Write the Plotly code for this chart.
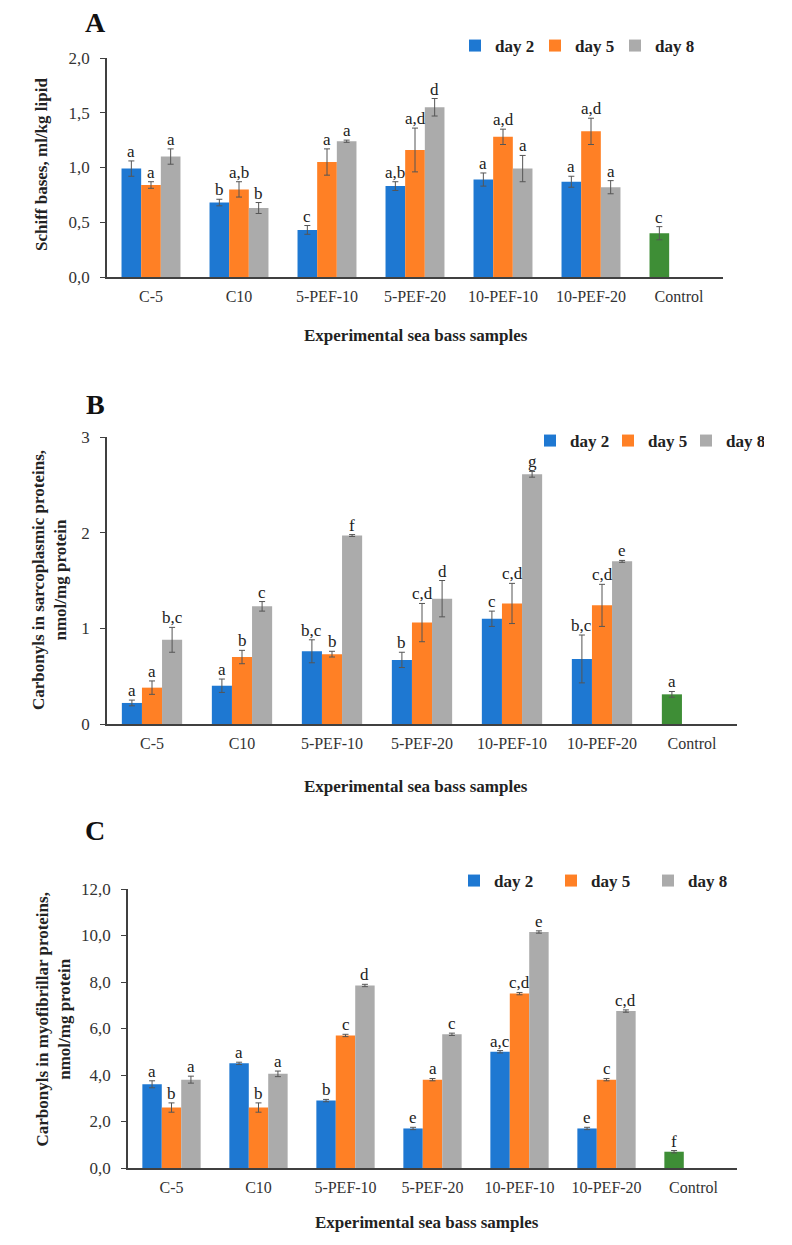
import plotly.graph_objects as go

categories = ["C-5", "C10", "5-PEF-10", "5-PEF-20", "10-PEF-10", "10-PEF-20", "Control"]
series_names = ["day 2", "day 5", "day 8"]

# Panel A: Schiff bases
a_day2 = [0.99, 0.68, 0.43, 0.83, 0.89, 0.87, 0.40]
a_day5 = [0.84, 0.80, 1.05, 1.16, 1.28, 1.33, None]
a_day8 = [1.10, 0.63, 1.24, 1.55, 0.99, 0.82, None]
a_err2 = [0.07, 0.03, 0.04, 0.04, 0.06, 0.05, 0.06]
a_err5 = [0.03, 0.07, 0.12, 0.20, 0.07, 0.12, None]
a_err8 = [0.07, 0.05, 0.01, 0.08, 0.12, 0.06, None]
a_let2 = ["a", "b", "c", "a,b", "a", "a", "c"]
a_let5 = ["a", "a,b", "a", "a,d", "a,d", "a,d", ""]
a_let8 = ["a", "b", "a", "d", "a", "a", ""]

# Panel B: Carbonyls in sarcoplasmic proteins
b_day2 = [0.22, 0.40, 0.76, 0.67, 1.10, 0.68, 0.31]
b_day5 = [0.38, 0.70, 0.73, 1.06, 1.26, 1.24, None]
b_day8 = [0.88, 1.23, 1.97, 1.31, 2.61, 1.70, None]
b_err2 = [0.03, 0.07, 0.12, 0.08, 0.08, 0.25, 0.03]
b_err5 = [0.07, 0.07, 0.03, 0.20, 0.21, 0.22, None]
b_err8 = [0.13, 0.05, 0.01, 0.19, 0.03, 0.01, None]
b_let2 = ["a", "a", "b,c", "b", "c", "b,c", "a"]
b_let5 = ["a", "b", "b", "c,d", "c,d", "c,d", ""]
b_let8 = ["b,c", "c", "f", "d", "g", "e", ""]

# Panel C: Carbonyls in myofibrillar proteins
c_day2 = [3.6, 4.5, 2.9, 1.7, 5.0, 1.7, 0.7]
c_day5 = [2.6, 2.6, 5.7, 3.8, 7.5, 3.8, None]
c_day8 = [3.8, 4.05, 7.85, 5.75, 10.15, 6.75, None]
c_err2 = [0.15, 0.05, 0.05, 0.05, 0.05, 0.05, 0.05]
c_err5 = [0.2, 0.2, 0.05, 0.05, 0.05, 0.05, None]
c_err8 = [0.15, 0.12, 0.05, 0.05, 0.05, 0.05, None]
c_let2 = ["a", "a", "b", "e", "a,c", "e", "f"]
c_let5 = ["b", "b", "c", "a", "c,d", "c", ""]
c_let8 = ["a", "a", "d", "c", "e", "c,d", ""]

y_titles = ["Schiff bases, ml/kg lipid",
            "Carbonyls in sarcoplasmic proteins,<br>nmol/mg protein",
            "Carbonyls in myofibrillar proteins,<br>nmol/mg protein"]
x_title = "Experimental sea bass samples"
panel_labels = ["A", "B", "C"]

COLORS = ["#1E78D2", "#FF8025", "#ABABAB"]
CONTROL_COLOR = "#3E8E36"
FONT = "Liberation Serif, DejaVu Serif, Times New Roman, serif"
BARGAP = 0.33
OFF = 8                      # page body margin
W, H = 792 - 2 * OFF, 1245 - 2 * OFF


def fx(px):
    return (px - OFF) / W


def fy(py):
    return 1 - (py - OFF) / H


panels = [
    dict(vals=[a_day2, a_day5, a_day8], errs=[a_err2, a_err5, a_err8], lets=[a_let2, a_let5, a_let8],
         x0=107, x1=723, ytop=58, ybot=277, yr=[0, 2], dtick=0.5, fmt=".1f",
         leg_x=455, leg_y=28, entry=35, xt_y=335, yt_x=[42], yt_c=165, lab_y=23),
    dict(vals=[b_day2, b_day5, b_day8], errs=[b_err2, b_err5, b_err8], lets=[b_let2, b_let5, b_let8],
         x0=107, x1=737, ytop=437, ybot=724, yr=[0, 3], dtick=1, fmt="d",
         leg_x=530, leg_y=423, entry=33, xt_y=786, yt_x=[40, 58], yt_c=580, lab_y=405),
    dict(vals=[c_day2, c_day5, c_day8], errs=[c_err2, c_err5, c_err8], lets=[c_let2, c_let5, c_let8],
         x0=128, x1=737, ytop=889, ybot=1168, yr=[0, 12], dtick=2, fmt=".1f",
         leg_x=454, leg_y=863, entry=52, xt_y=1222, yt_x=[43, 62], yt_c=1020, lab_y=830),
]

fig = go.Figure()
annotations = []
layout_upd = {}

for p_i, p in enumerate(panels):
    sfx = "" if p_i == 0 else str(p_i + 1)
    xa, ya = "x" + sfx, "y" + sfx
    leg = "legend" + sfx
    for s_i in range(3):
        vals = p["vals"][s_i]
        errs = p["errs"][s_i]
        colors = [COLORS[s_i]] * len(categories)
        if s_i == 0:
            colors[-1] = CONTROL_COLOR
        fig.add_trace(go.Bar(
            x=categories, y=vals, name="<b>" + series_names[s_i] + "</b>",
            marker=dict(color=colors, line=dict(width=0)),
            error_y=dict(type="data", array=errs, visible=True, color="#555555",
                         thickness=1, width=3),
            xaxis=xa, yaxis=ya, legend=leg, showlegend=True,
        ))
    # letters above error bars
    cat_w = (p["x1"] - p["x0"]) / len(categories)
    bar_w = cat_w * (1 - BARGAP) / 3
    for s_i in range(3):
        for c_i, cat in enumerate(categories):
            t = p["lets"][s_i][c_i]
            v = p["vals"][s_i][c_i]
            if not t or v is None:
                continue
            e = p["errs"][s_i][c_i] or 0
            annotations.append(dict(
                x=cat, y=v + e, xref=xa, yref=ya, text=t, showarrow=False,
                xanchor="center", yanchor="bottom", xshift=(s_i - 1) * bar_w, yshift=-2,
                font=dict(family=FONT, size=17, color="#222222")))
    layout_upd["xaxis" + sfx] = dict(
        domain=[fx(p["x0"]), fx(p["x1"])], anchor=ya, showline=True, linecolor="#404040",
        linewidth=1.5, ticks="", showgrid=False, ticklabelstandoff=4,
        tickfont=dict(family=FONT, size=16, color="#333333"))
    layout_upd["yaxis" + sfx] = dict(
        domain=[fy(p["ybot"]), fy(p["ytop"])], anchor=xa, range=p["yr"], dtick=p["dtick"],
        tickformat=p["fmt"], showline=True, linecolor="#404040",
        linewidth=1.5, ticks="outside", ticklen=5, tickcolor="#404040",
        showgrid=False, zeroline=False, ticklabelstandoff=7,
        tickfont=dict(family=FONT, size=17, color="#333333"))
    layout_upd[leg] = dict(orientation="h", x=fx(p["leg_x"]), y=fy(p["leg_y"]),
                           xanchor="left", yanchor="top", bgcolor="rgba(0,0,0,0)",
                           entrywidth=p["entry"], entrywidthmode="pixels",
                           font=dict(family=FONT, size=17, color="#222222"),
                           itemclick=False, itemdoubleclick=False)
    # titles
    annotations.append(dict(x=fx((p["x0"] + 725) / 2), y=fy(p["xt_y"]), xref="paper", yref="paper",
                            text="<b>" + x_title + "</b>", showarrow=False, xanchor="center",
                            yanchor="middle", font=dict(family=FONT, size=17, color="#222222")))
    annotations.append(dict(x=fx(sum(p["yt_x"]) / len(p["yt_x"])), y=fy(p["yt_c"]),
                            xref="paper", yref="paper",
                            text="<b>" + y_titles[p_i] + "</b>", showarrow=False, textangle=-90,
                            xanchor="center", yanchor="middle",
                            font=dict(family=FONT, size=17, color="#222222")))
    annotations.append(dict(x=fx(95), y=fy(p["lab_y"]), xref="paper", yref="paper",
                            text="<b>" + panel_labels[p_i] + "</b>", showarrow=False,
                            xanchor="center", yanchor="middle",
                            font=dict(family=FONT, size=28, color="#111111")))

fig.update_layout(**layout_upd)
fig.update_layout(
    width=W, height=H, margin=dict(l=0, r=0, t=0, b=0, autoexpand=False),
    plot_bgcolor="white", paper_bgcolor="white",
    separators=", ", barmode="group", bargap=BARGAP, bargroupgap=0,
    annotations=annotations,
    font=dict(family=FONT, color="#222222"),
)
fig.write_html("out.html")
